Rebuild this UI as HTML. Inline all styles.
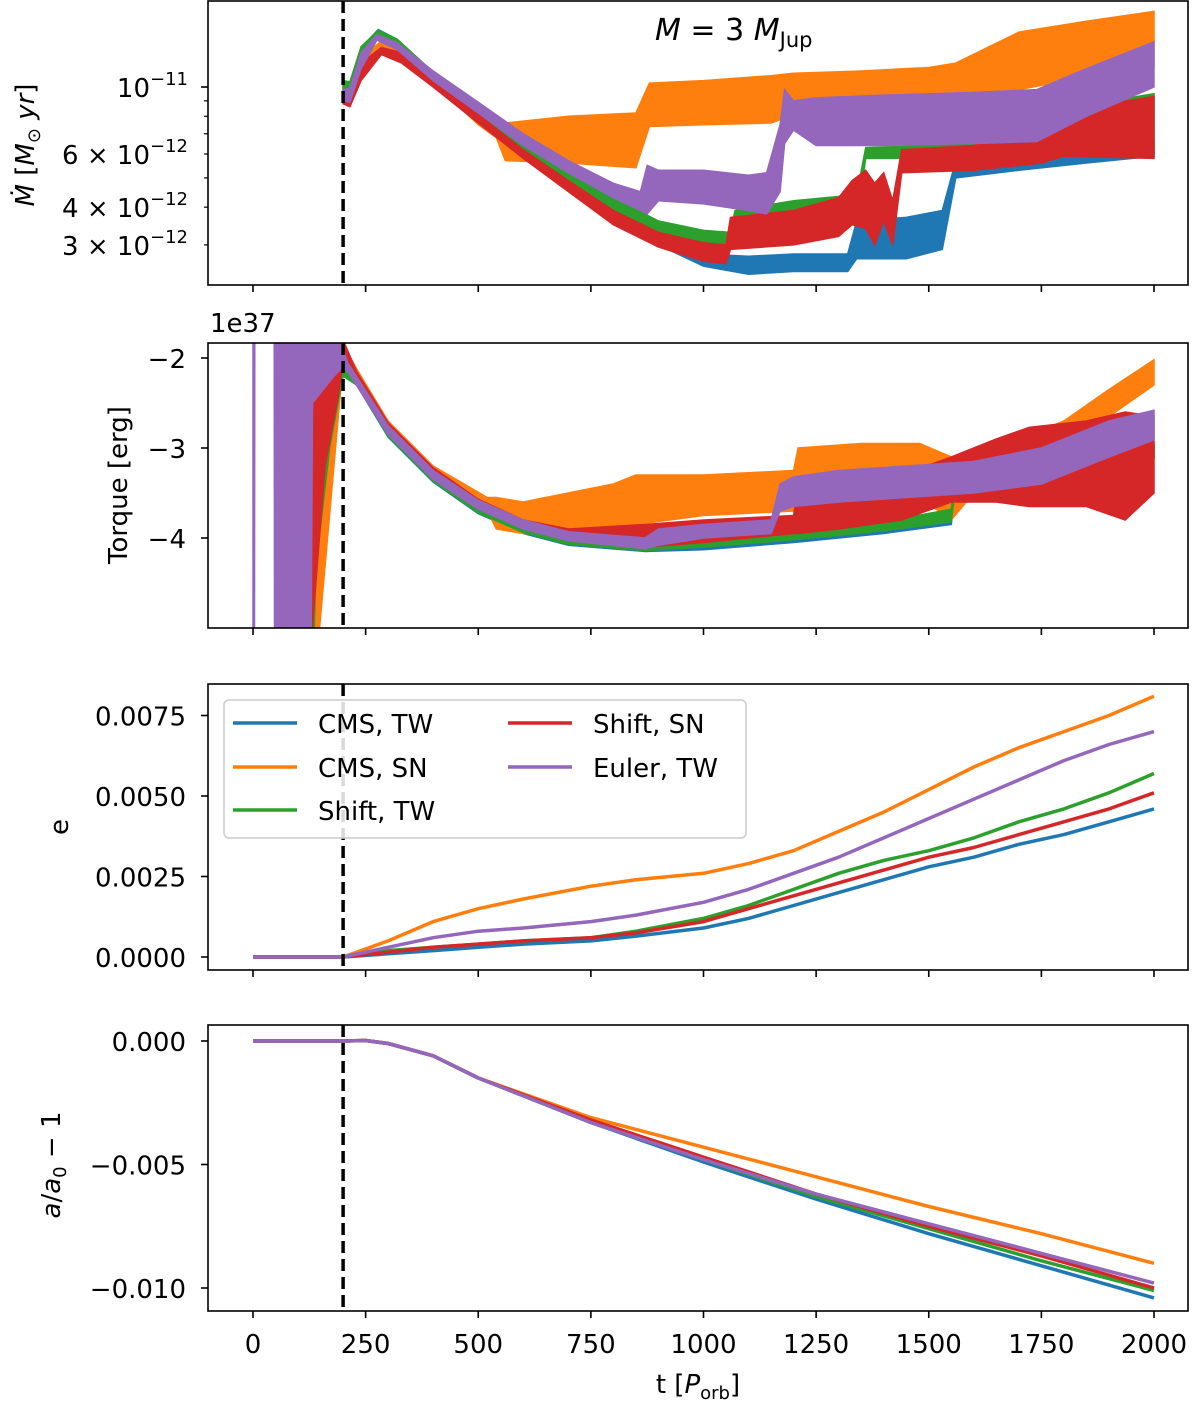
<!DOCTYPE html>
<html><head><meta charset="utf-8"><style>
html,body{margin:0;padding:0;background:#fff}
svg{display:block;font-family:"DejaVu Sans","Liberation Sans",sans-serif}
</style></head><body>
<svg id="chart" width="1200" height="1401" viewBox="0 0 1200 1401" xmlns="http://www.w3.org/2000/svg"></svg>
<script>
// ---------- data ----------
const xTicks = [0,250,500,750,1000,1250,1500,1750,2000];
const seriesNames = ["CMS, TW","CMS, SN","Shift, TW","Shift, SN","Euler, TW"];
const seriesColors = ["#1f77b4","#ff7f0e","#2ca02c","#d62728","#9467bd"];
const tStart = 200;

// Panel 1: Mdot envelopes (units of 1e-12 Msun/yr)
const mdotBlueT  = [200,215,240,278,320,400,500,600,700,800,900,1000,1100,1200,1320,1340,1450,1530,1560,1700,1850,2000];
const mdotBlueLo = [9.3,8.9,11.5,14.8,13.4,10.4,7.9,6.0,4.7,3.7,3.0,2.55,2.4,2.45,2.45,2.7,2.7,2.9,5.0,5.3,5.6,5.9];
const mdotBlueHi = [10.3,10.2,13.5,15.5,14.4,11.1,8.4,6.5,5.1,4.0,3.2,2.8,2.75,2.8,2.8,3.6,3.7,3.9,5.7,6.0,6.3,6.6];
const mdotOrangeT  = [200,215,240,280,320,400,500,540,560,700,850,880,1000,1150,1200,1350,1500,1560,1700,1850,2000];
const mdotOrangeLo = [9.2,9.0,11.0,13.5,12.9,10.3,7.5,6.8,5.7,5.6,5.4,7.4,7.5,7.6,8.1,8.1,8.2,8.3,9.8,10.8,11.7];
const mdotOrangeHi = [10.0,9.8,12.5,14.0,13.6,11.0,8.1,7.3,7.6,8.0,8.2,10.3,10.5,10.9,11.1,11.3,11.6,12.0,15.2,16.5,17.8];
const mdotGreenT  = [200,215,240,278,320,400,500,600,700,800,900,1000,1060,1070,1200,1340,1360,1500,1700,2000];
const mdotGreenLo = [9.5,9.2,11.8,14.8,13.4,10.4,8.0,6.1,4.8,3.9,3.3,3.0,2.9,3.2,3.4,3.6,5.8,5.8,6.0,6.0];
const mdotGreenHi = [10.5,10.4,13.6,15.4,14.4,11.2,8.5,6.6,5.2,4.3,3.6,3.35,3.3,3.9,4.2,4.4,6.3,6.4,8.0,9.5];
const mdotRedT  = [200,215,240,285,330,400,500,600,700,800,900,1000,1050,1060,1200,1300,1330,1360,1380,1400,1420,1440,1600,1750,1800,2000];
const mdotRedLo = [8.8,8.6,10.5,12.8,12.0,10.0,7.6,5.8,4.5,3.5,2.95,2.65,2.6,2.9,3.0,3.2,3.5,3.4,3.0,3.6,3.0,5.2,5.3,5.6,5.9,5.8];
const mdotRedHi = [9.6,9.4,12.0,13.5,13.0,10.7,8.1,6.2,4.9,3.9,3.3,3.05,3.0,3.7,3.9,4.3,4.9,5.3,4.8,5.2,4.2,6.2,6.4,7.5,8.3,9.3];
const mdotPurpleT  = [200,215,240,275,320,400,500,600,700,800,860,875,900,1000,1100,1140,1170,1180,1200,1250,1400,1600,1740,1850,2000];
const mdotPurpleLo = [9.0,8.9,11.5,14.3,13.3,10.5,8.2,6.4,5.2,4.3,3.9,3.8,4.2,4.1,3.9,3.8,4.5,6.5,7.2,6.4,6.4,6.5,6.6,8.0,10.0];
const mdotPurpleHi = [9.8,9.9,13.0,14.9,14.0,11.3,8.9,7.0,5.7,4.8,4.5,5.5,5.3,5.3,5.1,5.2,7.5,9.8,9.0,9.2,9.4,9.6,9.8,11.5,14.1];

// Panel 2: torque envelopes (units of 1e37 erg)
const tqBlueT  = [130,140,170,200,230,300,400,500,600,700,870,1000,1200,1400,1550,1560,1800,2000];
const tqBlueLo = [-6,-4.2,-3.0,-2.2,-2.3,-2.88,-3.38,-3.73,-3.95,-4.08,-4.15,-4.13,-4.05,-3.95,-3.85,-3.4,-3.3,-3.1];
const tqBlueHi = [-1.6,-1.6,-1.6,-1.9,-2.2,-2.78,-3.28,-3.63,-3.85,-3.98,-4.05,-4.0,-3.95,-3.85,-3.7,-3.2,-3.1,-2.95];
const tqOrangeT  = [130,200,230,300,400,520,540,600,800,850,1000,1200,1210,1350,1480,1550,1650,1800,1900,2000];
const tqOrangeLo = [-6,-2.05,-2.22,-2.78,-3.28,-3.7,-3.9,-3.95,-4.0,-3.85,-3.75,-3.7,-3.6,-3.5,-3.55,-3.8,-3.2,-2.95,-2.65,-2.3];
const tqOrangeHi = [-1.6,-1.85,-2.12,-2.7,-3.2,-3.55,-3.55,-3.6,-3.4,-3.3,-3.3,-3.25,-3.0,-2.95,-2.95,-3.1,-3.0,-2.7,-2.35,-2.02];
const tqGreenT  = [130,140,170,200,230,300,400,500,600,700,870,1000,1200,1400,1550,1560,1800,2000];
const tqGreenLo = [-6,-4.3,-3.0,-2.2,-2.3,-2.87,-3.37,-3.72,-3.94,-4.07,-4.14,-4.1,-4.02,-3.92,-3.82,-3.4,-3.3,-3.12];
const tqGreenHi = [-1.6,-1.6,-1.6,-1.9,-2.2,-2.77,-3.27,-3.62,-3.84,-3.97,-4.02,-3.97,-3.9,-3.82,-3.68,-3.2,-3.1,-2.97];
const tqRedT  = [120,130,160,190,200,230,300,400,500,600,700,870,1000,1200,1210,1300,1440,1550,1650,1723,1850,1936,2000];
const tqRedLo = [-6,-5.1,-3.2,-2.4,-2.05,-2.25,-2.8,-3.3,-3.65,-3.88,-4.0,-4.1,-4.05,-3.95,-3.95,-3.9,-3.8,-3.6,-3.6,-3.65,-3.65,-3.8,-3.5];
const tqRedHi = [-1.6,-1.6,-1.6,-1.6,-1.8,-2.15,-2.72,-3.22,-3.57,-3.8,-3.9,-3.85,-3.8,-3.75,-3.4,-3.4,-3.3,-3.1,-2.9,-2.77,-2.7,-2.6,-2.65];
const tqPurpleT  = [0,3,4,47,48,128,132,180,200,210,300,400,500,600,700,870,900,1000,1150,1170,1200,1300,1450,1600,1750,1900,2000];
const tqPurpleLo = [-6,-6,-1.7,-1.7,-6,-6,-2.5,-2.2,-2.1,-2.15,-2.85,-3.35,-3.68,-3.9,-4.03,-4.12,-4.08,-4.0,-3.95,-3.7,-3.65,-3.6,-3.55,-3.5,-3.4,-3.1,-2.91];
const tqPurpleHi = [-1.5,-1.5,-1.7,-1.7,-1.5,-1.5,-1.5,-1.5,-1.9,-2.05,-2.75,-3.25,-3.58,-3.8,-3.93,-4.0,-3.9,-3.85,-3.8,-3.4,-3.32,-3.25,-3.2,-3.15,-3.0,-2.7,-2.58];

// Panel 3: eccentricity
const eccT = [0,200,300,400,500,600,750,850,1000,1100,1200,1300,1400,1500,1600,1700,1800,1900,2000];
const eccBlue   = [0,0,0.0001,0.0002,0.0003,0.0004,0.0005,0.00065,0.0009,0.0012,0.0016,0.0020,0.0024,0.0028,0.0031,0.0035,0.0038,0.0042,0.0046];
const eccOrange = [0,0,0.0005,0.0011,0.0015,0.0018,0.0022,0.0024,0.0026,0.0029,0.0033,0.0039,0.0045,0.0052,0.0059,0.0065,0.0070,0.0075,0.0081];
const eccGreen  = [0,0,0.0002,0.0003,0.0004,0.0005,0.0006,0.0008,0.0012,0.0016,0.0021,0.0026,0.0030,0.0033,0.0037,0.0042,0.0046,0.0051,0.0057];
const eccRed    = [0,0,0.00015,0.0003,0.0004,0.0005,0.0006,0.00075,0.0011,0.0015,0.0019,0.0023,0.0027,0.0031,0.0034,0.0038,0.0042,0.0046,0.0051];
const eccPurple = [0,0,0.0003,0.0006,0.0008,0.0009,0.0011,0.0013,0.0017,0.0021,0.0026,0.0031,0.0037,0.0043,0.0049,0.0055,0.0061,0.0066,0.0070];

// Panel 4: semi-major axis change
const smaT = [0,200,250,300,400,500,750,1000,1250,1500,1750,2000];
const smaBlue   = [0,0,0.00002,-0.0001,-0.0006,-0.0015,-0.0033,-0.0049,-0.0064,-0.0078,-0.0091,-0.0104];
const smaOrange = [0,0,0.00002,-0.0001,-0.0006,-0.0015,-0.0031,-0.0043,-0.0055,-0.0067,-0.0078,-0.0090];
const smaGreen  = [0,0,0.00002,-0.0001,-0.0006,-0.0015,-0.0033,-0.0048,-0.0063,-0.0076,-0.0089,-0.0101];
const smaRed    = [0,0,0.00002,-0.0001,-0.0006,-0.0015,-0.0032,-0.0047,-0.0062,-0.0075,-0.0087,-0.0100];
const smaPurple = [0,0,0.00002,-0.0001,-0.0006,-0.0015,-0.0033,-0.0048,-0.0062,-0.0074,-0.0086,-0.0098];

const mdotTicks = [10]; const mdotMinor = [3,4,5,6,7,8,9];
const mdotMinorLabels = {3:"3",4:"4",6:"6"};
const tqTicks = [-2,-3,-4];
const eccTicks = [0,0.0025,0.005,0.0075];
const eccTickLabels = ["0.0000","0.0025","0.0050","0.0075"];
const smaTicks = [0,-0.005,-0.010];
const smaTickLabels = ["0.000","\u22120.005","\u22120.010"];

// ---------- layout ----------
const L=208,R=1188;
const P=[{top:1,bot:285},{top:343,bot:628},{top:684,bot:970},{top:1025,bot:1311}];
const xS = t => 253 + t*0.4505;
const y1 = v => 87 - 302*Math.log10(v/10);
const y2 = v => 358 + (-2 - v)*90;
const y3 = v => 957 - v*32200;
const y4 = v => 1041 - v*24700;

const NS="http://www.w3.org/2000/svg";
const svg=document.getElementById('chart');
function mk(tag,attrs,parent){const e=document.createElementNS(NS,tag);for(const k in attrs)e.setAttribute(k,attrs[k]);(parent||svg).appendChild(e);return e;}

const defs=mk('defs',{});
P.forEach((p,i)=>{const c=mk('clipPath',{id:'clip'+i},defs);mk('rect',{x:L,y:p.top,width:R-L,height:p.bot-p.top},c);});

function band(g,T,lo,hi,ys,color,name){
  let d='M'+T.map((t,i)=>xS(t).toFixed(1)+','+ys(hi[i]).toFixed(1)).join('L');
  for(let i=T.length-1;i>=0;i--) d+='L'+xS(T[i]).toFixed(1)+','+ys(lo[i]).toFixed(1);
  const p=mk('path',{d:d+'Z',fill:color,stroke:color,'stroke-width':1.5},g);
  
  
}
function line(g,T,V,ys,color,name){
  const p=mk('path',{d:'M'+T.map((t,i)=>xS(t).toFixed(1)+','+ys(V[i]).toFixed(1)).join('L'),fill:'none',stroke:color,'stroke-width':3.5,'stroke-linejoin':'round'},g);
  
  
}
function txt(x,y,s,attrs,parent){const e=mk('text',Object.assign({x:x,y:y,'font-size':26,fill:'#000'},attrs||{}),parent);e.textContent=s;return e;}

function frame(i,name){
  const g=mk('g',{});
  
  
  return g;
}
function finishFrame(i,g,showXLabels){
  const p=P[i];
  const dl=mk('line',{x1:xS(tStart),x2:xS(tStart),y1:p.top,y2:p.bot,stroke:'#000','stroke-width':3.5,'stroke-dasharray':'12,6'},g);
  
  
  const r=mk('rect',{x:L,y:p.top,width:R-L,height:p.bot-p.top,fill:'none',stroke:'#000','stroke-width':1.6},g);
  
  
  xTicks.forEach(t=>{
    mk('line',{x1:xS(t),x2:xS(t),y1:p.bot,y2:p.bot+7,stroke:'#000','stroke-width':1.6},g);
    if(showXLabels){const e=txt(xS(t),p.bot+42,String(t),{'text-anchor':'middle'},g);
      
      }
  });
}
function yTick(g,y,label,minor){
  mk('line',{x1:L-(minor?4:7),x2:L,y1:y,y2:y,stroke:'#000','stroke-width':minor?1.2:1.6},g);
}

// ---------- Panel 1 ----------
{
  const g=frame(0,'mdot-panel');
  const cg=mk('g',{'clip-path':'url(#clip0)'},g);
  band(cg,mdotBlueT,mdotBlueLo,mdotBlueHi,y1,seriesColors[0],'mdot-cms-tw');
  band(cg,mdotOrangeT,mdotOrangeLo,mdotOrangeHi,y1,seriesColors[1],'mdot-cms-sn');
  band(cg,mdotGreenT,mdotGreenLo,mdotGreenHi,y1,seriesColors[2],'mdot-shift-tw');
  band(cg,mdotRedT,mdotRedLo,mdotRedHi,y1,seriesColors[3],'mdot-shift-sn');
  band(cg,mdotPurpleT,mdotPurpleLo,mdotPurpleHi,y1,seriesColors[4],'mdot-euler-tw');
  finishFrame(0,g,false);
  mdotTicks.forEach(v=>{yTick(g,y1(v));
    const e=txt(188,y1(v)+10,'10',{'text-anchor':'end'},g);
    const s=mk('tspan',{'font-size':18,dy:-12},e);s.textContent='\u221211';
    
    });
  mdotMinor.forEach(v=>{yTick(g,y1(v),null,true);
    if(mdotMinorLabels[v]){const e=txt(188,y1(v)+10,mdotMinorLabels[v]+' \u00d7 10',{'text-anchor':'end'},g);
      const s=mk('tspan',{'font-size':18,dy:-12},e);s.textContent='\u221212';
      
      }});
  const yl=txt(0,0,'',{transform:'translate(34,145) rotate(-90)','text-anchor':'middle'},g);
  yl.innerHTML='<tspan font-style="italic">\u1E40</tspan>  [<tspan font-style="italic">M</tspan><tspan font-size="18" dy="6">\u2299</tspan><tspan dy="-6">  </tspan><tspan font-style="italic">yr</tspan>]';
  
  
  const ti=txt(655,40,'',{'font-size':30},g);
  ti.innerHTML='<tspan font-style="italic">M</tspan> = 3 <tspan font-style="italic">M</tspan><tspan font-size="21" dy="7">Jup</tspan>';
  
  
}
// ---------- Panel 2 ----------
{
  const g=frame(1,'torque-panel');
  const cg=mk('g',{'clip-path':'url(#clip1)'},g);
  band(cg,tqBlueT,tqBlueLo,tqBlueHi,y2,seriesColors[0],'torque-cms-tw');
  band(cg,tqOrangeT,tqOrangeLo,tqOrangeHi,y2,seriesColors[1],'torque-cms-sn');
  band(cg,tqGreenT,tqGreenLo,tqGreenHi,y2,seriesColors[2],'torque-shift-tw');
  band(cg,tqRedT,tqRedLo,tqRedHi,y2,seriesColors[3],'torque-shift-sn');
  band(cg,tqPurpleT,tqPurpleLo,tqPurpleHi,y2,seriesColors[4],'torque-euler-tw');
  finishFrame(1,g,false);
  tqTicks.forEach(v=>{yTick(g,y2(v));
    const e=txt(186,y2(v)+10,'\u2212'+Math.abs(v),{'text-anchor':'end'},g);
    
    });
  const off=txt(210,332,'1e37',{},g);
  
  
  const yl=txt(0,0,'Torque [erg]',{transform:'translate(127,485) rotate(-90)','text-anchor':'middle'},g);
  
  
}
// ---------- Panel 3 ----------
{
  const g=frame(2,'eccentricity-panel');
  const cg=mk('g',{'clip-path':'url(#clip2)'},g);
  line(cg,eccT,eccBlue,y3,seriesColors[0],'ecc-cms-tw');
  line(cg,eccT,eccOrange,y3,seriesColors[1],'ecc-cms-sn');
  line(cg,eccT,eccGreen,y3,seriesColors[2],'ecc-shift-tw');
  line(cg,eccT,eccRed,y3,seriesColors[3],'ecc-shift-sn');
  line(cg,eccT,eccPurple,y3,seriesColors[4],'ecc-euler-tw');
  finishFrame(2,g,false);
  eccTicks.forEach((v,i)=>{yTick(g,y3(v));
    const e=txt(186,y3(v)+10,eccTickLabels[i],{'text-anchor':'end'},g);
    
    });
  const yl=txt(0,0,'e',{transform:'translate(68,827) rotate(-90)','text-anchor':'middle'},g);
  
  
  const lg=mk('g',{},g);
  
  
  mk('rect',{x:224,y:700,width:522,height:138,rx:5,fill:'#fff','fill-opacity':0.85,stroke:'#ccc','stroke-width':1.5},lg);
  const pos=[[233,723],[233,767],[233,810],[508,723],[508,767]];
  seriesNames.forEach((n,i)=>{
    const e=mk('g',{},lg);
    
    
    mk('line',{x1:pos[i][0],x2:pos[i][0]+64,y1:pos[i][1],y2:pos[i][1],stroke:seriesColors[i],'stroke-width':3.5},e);
    txt(pos[i][0]+85,pos[i][1]+10,n,{},e);
  });
}
// ---------- Panel 4 ----------
{
  const g=frame(3,'semimajor-axis-panel');
  const cg=mk('g',{'clip-path':'url(#clip3)'},g);
  line(cg,smaT,smaBlue,y4,seriesColors[0],'sma-cms-tw');
  line(cg,smaT,smaOrange,y4,seriesColors[1],'sma-cms-sn');
  line(cg,smaT,smaGreen,y4,seriesColors[2],'sma-shift-tw');
  line(cg,smaT,smaRed,y4,seriesColors[3],'sma-shift-sn');
  line(cg,smaT,smaPurple,y4,seriesColors[4],'sma-euler-tw');
  finishFrame(3,g,true);
  smaTicks.forEach((v,i)=>{yTick(g,y4(v));
    const e=txt(186,y4(v)+10,smaTickLabels[i],{'text-anchor':'end'},g);
    
    });
  const yl=txt(0,0,'',{transform:'translate(60,1165) rotate(-90)','text-anchor':'middle'},g);
  yl.innerHTML='<tspan font-style="italic">a</tspan>/<tspan font-style="italic">a</tspan><tspan font-size="18" dy="6">0</tspan><tspan dy="-6"> \u2212 1</tspan>';
  
  
  const xl=txt(698,1393,'',{'text-anchor':'middle'},g);
  xl.innerHTML='t  [<tspan font-style="italic">P</tspan><tspan font-size="18" dy="6">orb</tspan><tspan dy="-6">]</tspan>';
  
  
}
</script>
</body></html>
